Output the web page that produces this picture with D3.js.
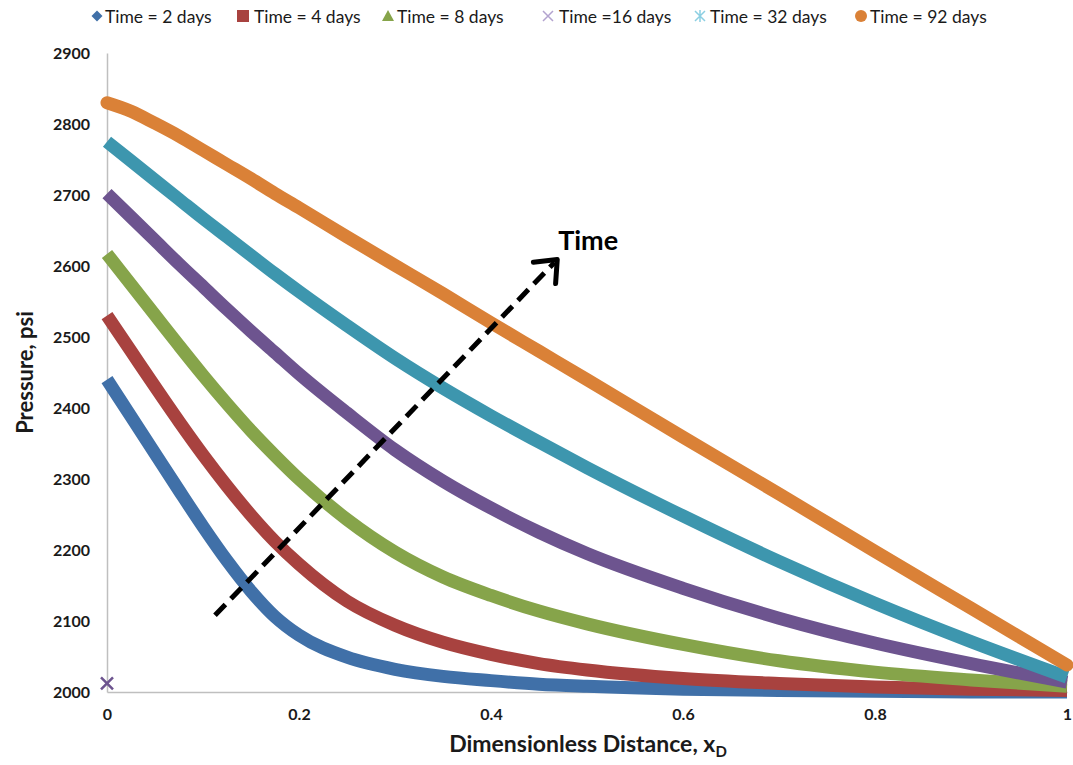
<!DOCTYPE html>
<html>
<head>
<meta charset="utf-8">
<script src="https://cdn.jsdelivr.net/npm/d3@7"></script>
<style>
  html, body { margin: 0; padding: 0; background: #fff; }
  svg { display: block; font-family: Lato, "Open Sans", sans-serif; }
</style>
</head>
<body>
<svg id="chart" width="1073" height="765"></svg>
<script>
// ---------- data ----------
const seriesNames = ["Time = 2 days", "Time = 4 days", "Time = 8 days", "Time =16 days", "Time = 32 days", "Time = 92 days"];
const seriesColors = ["#4070A8", "#A8423F", "#86A44A", "#6D548F", "#3D96AE", "#DA8137"];

const xD = [0, 0.025, 0.05, 0.075, 0.1, 0.125, 0.15, 0.175, 0.2, 0.25, 0.3, 0.35, 0.4, 0.45, 0.5, 0.6, 0.7, 0.8, 0.9, 1.0];

const p2days  = [2440, 2388, 2336, 2284, 2233, 2185, 2142, 2106, 2080, 2049, 2032, 2022, 2016, 2011, 2008, 2004, 2002, 2001, 2000, 2000];
const p4days  = [2530, 2480, 2430, 2381, 2334, 2290, 2249, 2212, 2180, 2128, 2094, 2070, 2053, 2040, 2031, 2019, 2012, 2007, 2004, 2002];
const p8days  = [2617, 2574, 2531, 2488, 2446, 2406, 2368, 2333, 2300, 2243, 2197, 2162, 2136, 2114, 2096, 2067, 2044, 2028, 2017, 2008];
const p16days = [2702, 2669, 2636, 2603, 2571, 2539, 2508, 2478, 2448, 2393, 2341, 2297, 2259, 2225, 2195, 2146, 2104, 2069, 2040, 2014];
const p32days = [2775, 2748, 2721, 2694, 2667, 2641, 2615, 2589, 2564, 2516, 2470, 2428, 2389, 2352, 2316, 2248, 2184, 2125, 2071, 2021];
const p92days = [2830, 2818, 2801, 2783, 2763, 2743, 2723, 2702, 2682, 2641, 2601, 2561, 2520, 2480, 2440, 2359, 2279, 2198, 2118, 2038];
const seriesValues = [p2days, p4days, p8days, p16days, p32days, p92days];

// extra isolated point of the 16-day series
const extraPoint16 = { x: 0, y: 2012 };

const yTicks = [2000, 2100, 2200, 2300, 2400, 2500, 2600, 2700, 2800, 2900];
const xTicks = [0, 0.2, 0.4, 0.6, 0.8, 1];
const xTickLabels = ["0", "0.2", "0.4", "0.6", "0.8", "1"];

// time arrow annotation (data space)
const arrowStart = { x: 0.1125, y: 2108 };
const arrowEnd = { x: 0.469, y: 2609 };
const arrowLabel = { text: "Time", x: 0.470, y: 2622 };

// ---------- layout ----------
const W = 1073, H = 765;
const margin = { top: 53, right: 6, bottom: 73, left: 107 };
const svg = d3.select("#chart");

const x = d3.scaleLinear().domain([0, 1]).range([margin.left, W - margin.right]);
const y = d3.scaleLinear().domain([2000, 2900]).range([H - margin.bottom, margin.top]);

// axes
const axisColor = "#BFBFBF";
const yAxis = svg.append("g").attr("transform", `translate(${margin.left},0)`)
  .call(d3.axisLeft(y).tickValues(yTicks).tickSize(0).tickPadding(17).tickFormat(d3.format("d")));
const xAxis = svg.append("g").attr("transform", `translate(0,${H - margin.bottom})`)
  .call(d3.axisBottom(x).tickValues(xTicks).tickSize(0).tickPadding(17).tickFormat((d, i) => xTickLabels[i]));
[yAxis, xAxis].forEach(g => {
  g.select(".domain").attr("stroke", axisColor).attr("stroke-width", 1.5);
  g.selectAll("text").attr("font-family", "Lato, 'Open Sans', sans-serif")
    .attr("font-size", 16).attr("font-weight", "bold").attr("fill", "#1a1a1a");
});

// axis titles
svg.append("text")
  .attr("transform", `translate(27,${(margin.top + H - margin.bottom) / 2}) rotate(-90)`)
  .attr("text-anchor", "middle").attr("dominant-baseline", "middle")
  .attr("font-size", 22).attr("font-weight", "bold").attr("fill", "#1a1a1a")
  .text("Pressure, psi");

const xt = svg.append("text")
  .attr("x", (margin.left + W - margin.right) / 2 + 1).attr("y", 752)
  .attr("text-anchor", "middle")
  .attr("font-size", 23).attr("font-weight", "bold").attr("fill", "#1a1a1a");
xt.append("tspan").text("Dimensionless Distance, x");
xt.append("tspan").attr("font-size", 15).attr("dy", 5).text("D");

// series lines
const line = d3.line().x(d => x(d.x)).y(d => y(d.y)).curve(d3.curveMonotoneX);
seriesValues.forEach((vals, i) => {
  const pts = xD.map((xv, j) => ({ x: xv, y: vals[j] }));
  svg.append("path")
    .datum(pts)
    .attr("fill", "none")
    .attr("stroke", seriesColors[i])
    .attr("stroke-width", 13)
    .attr("stroke-linecap", i === 5 ? "round" : "butt")
    .attr("stroke-linejoin", "round")
    .attr("d", line);
});

// isolated 16-day point (X marker)
{
  const cx = x(extraPoint16.x), cy = y(extraPoint16.y), s = 6;
  svg.append("path")
    .attr("d", `M${cx - s},${cy - s}L${cx + s},${cy + s}M${cx - s},${cy + s}L${cx + s},${cy - s}`)
    .attr("stroke", seriesColors[3]).attr("stroke-width", 2.5).attr("fill", "none");
}

// time arrow
{
  const x1 = x(arrowStart.x), y1 = y(arrowStart.y), x2 = x(arrowEnd.x), y2 = y(arrowEnd.y);
  const len = Math.hypot(x2 - x1, y2 - y1);
  const ux = (x2 - x1) / len, uy = (y2 - y1) / len;
  svg.append("line")
    .attr("x1", x1).attr("y1", y1).attr("x2", x2 - ux * 4).attr("y2", y2 - uy * 4)
    .attr("stroke", "#000").attr("stroke-width", 5).attr("stroke-dasharray", "15,8");
  const a = 40 * Math.PI / 180, L = 24;
  const rot = (ang) => [ux * Math.cos(ang) - uy * Math.sin(ang), ux * Math.sin(ang) + uy * Math.cos(ang)];
  const r1 = rot(a), r2 = rot(-a);
  svg.append("path")
    .attr("d", `M${x2 - r1[0] * L},${y2 - r1[1] * L}L${x2},${y2}L${x2 - r2[0] * L},${y2 - r2[1] * L}`)
    .attr("fill", "none").attr("stroke", "#000").attr("stroke-width", 5)
    .attr("stroke-linecap", "round").attr("stroke-linejoin", "round");
  svg.append("text")
    .attr("x", x(arrowLabel.x)).attr("y", y(arrowLabel.y))
    .attr("font-size", 27).attr("font-weight", "bold").attr("fill", "#000")
    .text(arrowLabel.text);
}

// legend
const legendX = [97, 243, 388, 548, 700, 861];
const legendTextX = [105, 254, 397, 559, 710, 870];
const legendY = 16;
const legendMarkerColors = ["#4070A8", "#A8423F", "#86A44A", "#B3A3CF", "#8CCFE2", "#DA8137"];
const lg = svg.append("g");
seriesNames.forEach((name, i) => {
  const cx = legendX[i], cy = legendY, c = legendMarkerColors[i];
  if (i === 0) {
    lg.append("path").attr("d", `M${cx},${cy - 5.5}L${cx + 5.5},${cy}L${cx},${cy + 5.5}L${cx - 5.5},${cy}Z`).attr("fill", c);
  } else if (i === 1) {
    lg.append("rect").attr("x", cx - 6).attr("y", cy - 6).attr("width", 12).attr("height", 12).attr("fill", c);
  } else if (i === 2) {
    lg.append("path").attr("d", `M${cx},${cy - 6}L${cx + 6},${cy + 5}L${cx - 6},${cy + 5}Z`).attr("fill", c);
  } else if (i === 3) {
    lg.append("path").attr("d", `M${cx - 5},${cy - 5}L${cx + 5},${cy + 5}M${cx - 5},${cy + 5}L${cx + 5},${cy - 5}`)
      .attr("stroke", c).attr("stroke-width", 1.5);
  } else if (i === 4) {
    lg.append("path").attr("d", `M${cx - 5},${cy - 5}L${cx + 5},${cy + 5}M${cx - 5},${cy + 5}L${cx + 5},${cy - 5}M${cx},${cy - 6}L${cx},${cy + 6}`)
      .attr("stroke", c).attr("stroke-width", 1.5);
  } else {
    lg.append("circle").attr("cx", cx).attr("cy", cy).attr("r", 6).attr("fill", c);
  }
  lg.append("text").attr("x", legendTextX[i]).attr("y", cy).attr("dominant-baseline", "central")
    .attr("font-size", 17.5).attr("fill", "#1a1a1a").text(name);
});
</script>
</body>
</html>
